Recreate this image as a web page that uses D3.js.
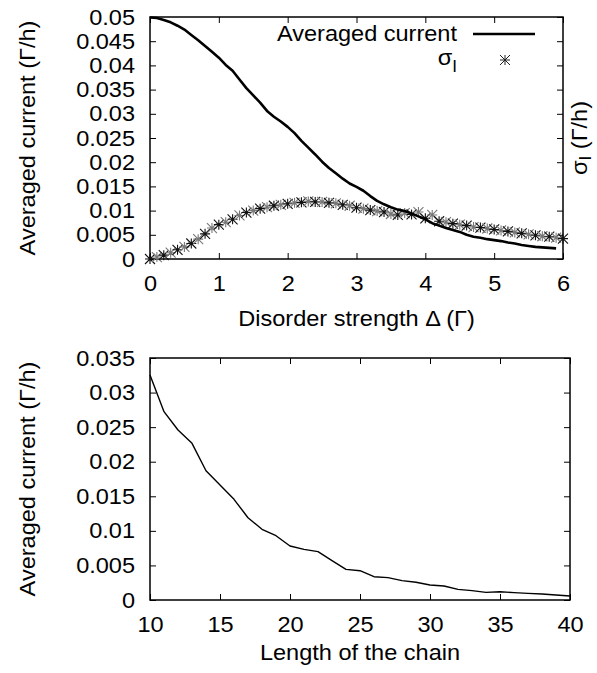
<!DOCTYPE html>
<html>
<head>
<meta charset="utf-8">
<script src="https://cdn.jsdelivr.net/npm/d3@7"></script>
<style>
  body { margin: 0; background: #fff; }
  svg text { font-family: "Liberation Sans", Arial, Helvetica, sans-serif; }
</style>
</head>
<body>
<svg id="chart"></svg>
<script>
// ---- data: top panel (current vs disorder strength) ----
const disorderLine = [0, 0.1, 0.2, 0.3, 0.4, 0.5, 0.6, 0.7, 0.8, 0.9,
  1.0, 1.1, 1.2, 1.3, 1.4, 1.5, 1.6, 1.7, 1.8, 1.9,
  2.0, 2.1, 2.2, 2.3, 2.4, 2.5, 2.6, 2.7, 2.8, 2.9,
  3.0, 3.1, 3.2, 3.3, 3.4, 3.5, 3.6, 3.7, 3.8, 3.9,
  4.0, 4.1, 4.2, 4.3, 4.4, 4.5, 4.6, 4.7, 4.8, 4.9,
  5.0, 5.1, 5.2, 5.3, 5.4, 5.5, 5.6, 5.7, 5.8, 5.9];
const avgCurrent = [0.0499, 0.0498, 0.0494, 0.0489, 0.0482, 0.0474, 0.0463, 0.0452, 0.0440, 0.0428,
  0.0416, 0.0401, 0.0389, 0.0371, 0.0353, 0.0338, 0.0323, 0.0306, 0.0294, 0.0284,
  0.0273, 0.0260, 0.0244, 0.0230, 0.0216, 0.0201, 0.0188, 0.0177, 0.0166, 0.0156,
  0.0149, 0.0141, 0.0130, 0.0120, 0.0113, 0.0107, 0.0102, 0.0099, 0.0094, 0.0088,
  0.0082, 0.0074, 0.0069, 0.0064, 0.0060, 0.0056, 0.0050, 0.0046, 0.0044, 0.0041,
  0.0039, 0.0037, 0.0034, 0.0032, 0.0029, 0.0027, 0.0025, 0.0024, 0.0023, 0.0022];

const disorderSigma = [0, 0.1, 0.2, 0.3, 0.4, 0.5, 0.6, 0.7, 0.8, 0.9,
  1.0, 1.1, 1.2, 1.3, 1.4, 1.5, 1.6, 1.7, 1.8, 1.9,
  2.0, 2.1, 2.2, 2.3, 2.4, 2.5, 2.6, 2.7, 2.8, 2.9,
  3.0, 3.1, 3.2, 3.3, 3.4, 3.5, 3.6, 3.7, 3.8, 3.9,
  4.0, 4.1, 4.2, 4.3, 4.4, 4.5, 4.6, 4.7, 4.8, 4.9,
  5.0, 5.1, 5.2, 5.3, 5.4, 5.5, 5.6, 5.7, 5.8, 5.9, 6.0];
const sigmaI = [0.0000, 0.0004, 0.0008, 0.0013, 0.0019, 0.0025, 0.0032, 0.0041, 0.0052, 0.0064,
  0.0071, 0.0076, 0.0082, 0.0090, 0.0096, 0.0100, 0.0104, 0.0107, 0.0110, 0.0112,
  0.0114, 0.0116, 0.0117, 0.0119, 0.0118, 0.0118, 0.0116, 0.0115, 0.0112, 0.0110,
  0.0106, 0.0104, 0.0101, 0.0099, 0.0097, 0.0093, 0.0091, 0.0095, 0.0092, 0.0097,
  0.0084, 0.0091, 0.0078, 0.0076, 0.0073, 0.0071, 0.0069, 0.0066, 0.0065, 0.0063,
  0.0061, 0.0059, 0.0057, 0.0055, 0.0053, 0.0051, 0.0049, 0.0047, 0.0046, 0.0044, 0.0042];

const topXTicks = [0, 1, 2, 3, 4, 5, 6];
const topXLabels = ['0', '1', '2', '3', '4', '5', '6'];
const topYTicks = [0, 0.005, 0.01, 0.015, 0.02, 0.025, 0.03, 0.035, 0.04, 0.045, 0.05];
const topYLabels = ['0', '0.005', '0.01', '0.015', '0.02', '0.025', '0.03', '0.035', '0.04', '0.045', '0.05'];

// ---- data: bottom panel (current vs chain length) ----
const chainLength = [10, 11, 12, 13, 14, 15, 16, 17, 18, 19, 20, 21, 22, 23, 24, 25,
  26, 27, 28, 29, 30, 31, 32, 33, 34, 35, 36, 37, 38, 39, 40];
const chainCurrent = [0.03254, 0.02724, 0.02459, 0.02266, 0.01870, 0.01663, 0.01456, 0.01190,
  0.01022, 0.00930, 0.00781, 0.00733, 0.00699, 0.00569, 0.00443, 0.00424,
  0.00337, 0.00323, 0.00280, 0.00256, 0.00217, 0.00202, 0.00154, 0.00135,
  0.00111, 0.00120, 0.00106, 0.00096, 0.00087, 0.00072, 0.00058];

const botXTicks = [10, 15, 20, 25, 30, 35, 40];
const botXLabels = ['10', '15', '20', '25', '30', '35', '40'];
const botYTicks = [0, 0.005, 0.01, 0.015, 0.02, 0.025, 0.03, 0.035];
const botYLabels = ['0', '0.005', '0.01', '0.015', '0.02', '0.025', '0.03', '0.035'];

// ---- layout ----
const W = 597, H = 673;
const FS = 22, SX = 1.07;     // font size, horizontal stretch of text
const TICK = 6;
const boxTop = { x0: 150, x1: 563, y0: 17, y1: 259 };
const boxBot = { x0: 150, x1: 570, y0: 358, y1: 600 };

const svg = d3.select('#chart')
  .attr('width', W).attr('height', H)
  .attr('viewBox', `0 0 ${W} ${H}`)
  .style('background', '#fff');

function txt(g, x, y, s, rot, anchor) {
  return g.append('text')
    .attr('transform', `translate(${x},${y}) rotate(${rot || 0}) scale(${SX},1)`)
    .attr('text-anchor', anchor || 'middle')
    .attr('font-size', FS)
    .attr('fill', '#000')
    .text(s);
}

function sigmaText(t, tail, shift) {
  t.append('tspan').text('σ');
  t.append('tspan').attr('dy', shift).attr('font-size', 16).text('I');
  if (tail) t.append('tspan').attr('dy', -shift).text(tail);
  return t;
}

function styleAxis(sel) {
  sel.attr('font-size', FS)
    .attr('font-family', '"Liberation Sans", Arial, sans-serif');
  sel.select('.domain').remove();
  sel.selectAll('.tick line').attr('stroke', '#000').attr('stroke-width', 1);
  sel.selectAll('.tick text').attr('fill', '#000').attr('transform', `scale(${SX},1)`);
}

function drawAxes(box, x, y, xt, xl, yt, yl) {
  svg.append('g').attr('transform', `translate(0,${box.y1})`)
    .call(d3.axisBottom(x).tickValues(xt).tickFormat((d, i) => xl[i])
      .tickSizeInner(-TICK).tickSizeOuter(0).tickPadding(16))
    .call(styleAxis);
  svg.append('g').attr('transform', `translate(0,${box.y0})`)
    .call(d3.axisTop(x).tickValues(xt).tickFormat('')
      .tickSizeInner(-TICK).tickSizeOuter(0))
    .call(styleAxis);
  svg.append('g').attr('transform', `translate(${box.x0},0)`)
    .call(d3.axisLeft(y).tickValues(yt).tickFormat((d, i) => yl[i])
      .tickSizeInner(-TICK).tickSizeOuter(0).tickPadding(14))
    .call(styleAxis);
  svg.append('g').attr('transform', `translate(${box.x1},0)`)
    .call(d3.axisRight(y).tickValues(yt).tickFormat('')
      .tickSizeInner(-TICK).tickSizeOuter(0))
    .call(styleAxis);
  svg.append('rect')
    .attr('x', box.x0).attr('y', box.y0)
    .attr('width', box.x1 - box.x0).attr('height', box.y1 - box.y0)
    .attr('fill', 'none').attr('stroke', '#000').attr('stroke-width', 1.5);
}

const STAR = 5;
const starPath = `M${-STAR},0H${STAR}M0,${-STAR}V${STAR}` +
  `M${-STAR},${-STAR}L${STAR},${STAR}M${-STAR},${STAR}L${STAR},${-STAR}`;

// ---- top panel ----
const x1 = d3.scaleLinear().domain([0, 6]).range([boxTop.x0, boxTop.x1]);
const y1 = d3.scaleLinear().domain([0, 0.05]).range([boxTop.y1, boxTop.y0]);
drawAxes(boxTop, x1, y1, topXTicks, topXLabels, topYTicks, topYLabels);

svg.append('g').selectAll('path')
  .data(disorderSigma.map((d, i) => [d, sigmaI[i]]))
  .join('path')
  .attr('transform', d => `translate(${x1(d[0])},${y1(d[1])})`)
  .attr('d', starPath)
  .attr('fill', 'none')
  .attr('stroke', (d, i) => i % 2 ? '#777' : '#111')
  .attr('stroke-width', 1.1);

svg.append('path')
  .datum(disorderLine.map((d, i) => [d, avgCurrent[i]]))
  .attr('d', d3.line().x(d => x1(d[0])).y(d => y1(d[1])))
  .attr('fill', 'none').attr('stroke', '#000').attr('stroke-width', 2.6)
  .attr('stroke-linejoin', 'round');

// legend
txt(svg, 457, 41, 'Averaged current', 0, 'end');
svg.append('line').attr('x1', 473).attr('x2', 535).attr('y1', 34).attr('y2', 34)
  .attr('stroke', '#000').attr('stroke-width', 2.6);
sigmaText(txt(svg, 457, 65, '', 0, 'end'), null, 7);
svg.append('path').attr('transform', 'translate(505,60)').attr('d', starPath)
  .attr('fill', 'none').attr('stroke', '#222').attr('stroke-width', 1);

// axis titles
txt(svg, 35, (boxTop.y0 + boxTop.y1) / 2, 'Averaged current (Γ/h)', -90);
sigmaText(txt(svg, 587, (boxTop.y0 + boxTop.y1) / 2, '', -90), ' (Γ/h)', 4);
txt(svg, (boxTop.x0 + boxTop.x1) / 2, 326, 'Disorder strength Δ (Γ)');

// ---- bottom panel ----
const x2 = d3.scaleLinear().domain([10, 40]).range([boxBot.x0, boxBot.x1]);
const y2 = d3.scaleLinear().domain([0, 0.035]).range([boxBot.y1, boxBot.y0]);
drawAxes(boxBot, x2, y2, botXTicks, botXLabels, botYTicks, botYLabels);

svg.append('path')
  .datum(chainLength.map((d, i) => [d, chainCurrent[i]]))
  .attr('d', d3.line().x(d => x2(d[0])).y(d => y2(d[1])))
  .attr('fill', 'none').attr('stroke', '#000').attr('stroke-width', 1.4)
  .attr('stroke-linejoin', 'round');

txt(svg, 35, (boxBot.y0 + boxBot.y1) / 2, 'Averaged current (Γ/h)', -90);
txt(svg, (boxBot.x0 + boxBot.x1) / 2, 660, 'Length of the chain');
</script>
</body>
</html>
